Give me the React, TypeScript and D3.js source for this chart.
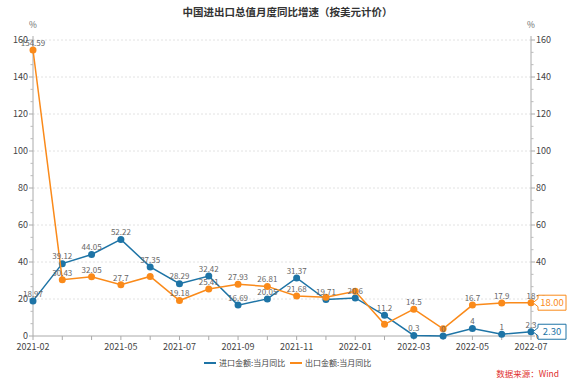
import * as d3 from "d3";

const months = [
  "2021-02", "2021-03", "2021-04", "2021-05", "2021-06", "2021-07",
  "2021-08", "2021-09", "2021-10", "2021-11", "2021-12", "2022-01",
  "2022-02", "2022-03", "2022-04", "2022-05", "2022-06", "2022-07",
];
// 进口金额:当月同比
const importYoY = [18.97, 39.12, 44.05, 52.22, 37.35, 28.29, 32.42, 16.69, 20.05, 31.37, 19.71, 20.6, 11.2, 0.3, 0, 4, 1, 2.3];
// 出口金额:当月同比
const exportYoY = [154.59, 30.43, 32.05, 27.7, 32.2, 19.18, 25.41, 27.93, 26.81, 21.68, 20.9, 24.2, 6.3, 14.5, 3.9, 16.7, 17.9, 18];
const xTickLabels = ["2021-02", "2021-05", "2021-07", "2021-09", "2021-11", "2022-01", "2022-03", "2022-05", "2022-07"];
const yTicks = [0, 20, 40, 60, 80, 100, 120, 140, 160];

const W = 575;
const H = 384;
const left = 33;
const right = 531;
const top = 40;
const bottom = 336;
const font = "'Noto Sans CJK SC', 'Open Sans', sans-serif";
const BLUE = "#1e74a6";
const ORANGE = "#fa8a1a";

const series = [
  { name: "进口金额:当月同比", values: importYoY, color: BLUE },
  { name: "出口金额:当月同比", values: exportYoY, color: ORANGE },
];

const App = () => {
  const x = d3.scalePoint<string>().domain(months).range([left, right]);
  const y = d3.scaleLinear().domain([0, 160]).range([bottom, top]);
  const line = d3
    .line<number>()
    .x((_, i) => x(months[i])!)
    .y((d) => y(d));

  // minor ticks: 3 parts between major ticks
  const minor: number[] = [];
  for (let v = 0; v < 160; v += 20) {
    minor.push(v + 20 / 3, v + 40 / 3);
  }

  // data labels, hide ones that collide with labels already placed
  const placed: { x: number; y: number; w: number; h: number }[] = [];
  const labels: { x: number; y: number; text: string }[] = [];
  series.forEach((s) => {
    s.values.forEach((v, i) => {
      const text = String(v);
      const lx = x(months[i])!;
      const ly = y(v) - 7;
      const box = { x: lx - text.length * 2.3, y: ly - 5.5, w: text.length * 4.6, h: 11 };
      const hit = placed.some(
        (b) => box.x < b.x + b.w && b.x < box.x + box.w && box.y < b.y + b.h && b.y < box.y + box.h
      );
      if (!hit) {
        placed.push(box);
        labels.push({ x: lx, y: ly, text });
      }
    });
  });

  const lastIdx = months.length - 1;
  const callout = (v: number, color: string) => {
    const cy = y(v);
    const x0 = right + 2;
    const bx = 538;
    const bw = 28;
    const bh = 15;
    const d = `M${x0},${cy} L${bx},${cy - 4} L${bx},${cy - bh / 2} L${bx + bw},${cy - bh / 2} L${bx + bw},${cy + bh / 2} L${bx},${cy + bh / 2} L${bx},${cy + 4} Z`;
    return (
      <g key={color}>
        <path d={d} fill="#fff" stroke={color} strokeWidth={1} />
        <text x={bx + bw / 2} y={cy} dy="0.35em" textAnchor="middle" fontSize={9.5} fill={color}>
          {v.toFixed(2)}
        </text>
      </g>
    );
  };

  return (
    <svg width={W} height={H} style={{ position: "absolute", left: 0, top: 0, fontFamily: font }}>
      <rect width={W} height={H} fill="#fff" />
      <text x={W / 2} y={16} textAnchor="middle" fontSize={10.5} fontWeight="bold" fill="#333">
        中国进出口总值月度同比增速（按美元计价）
      </text>
      <text x={left} y={28} textAnchor="middle" fontSize={8.5} fill="#666">%</text>
      <text x={right} y={28} textAnchor="middle" fontSize={8.5} fill="#666">%</text>

      {/* grid */}
      {yTicks.filter((t) => t > 0).map((t) => (
        <line key={t} x1={left} x2={right} y1={y(t)} y2={y(t)} stroke="#e2e2e2" strokeDasharray="2,2" />
      ))}

      {/* left axis */}
      <line x1={left} x2={left} y1={top - 4} y2={bottom} stroke="#aaa" />
      {yTicks.map((t) => (
        <g key={"l" + t}>
          <line x1={left - 4} x2={left} y1={y(t)} y2={y(t)} stroke="#aaa" />
          <text x={left - 5} y={y(t)} dy="0.35em" textAnchor="end" fontSize={9} fill="#444">{t}</text>
        </g>
      ))}
      {minor.map((t) => (
        <line key={"lm" + t} x1={left - 2.5} x2={left} y1={y(t)} y2={y(t)} stroke="#bbb" />
      ))}

      {/* right axis */}
      <line x1={right} x2={right} y1={top - 4} y2={bottom} stroke="#aaa" />
      {yTicks.map((t) => (
        <g key={"r" + t}>
          <line x1={right} x2={right + 4} y1={y(t)} y2={y(t)} stroke="#aaa" />
          <text x={right + 5} y={y(t)} dy="0.35em" textAnchor="start" fontSize={9} fill="#444">{t}</text>
        </g>
      ))}
      {minor.map((t) => (
        <line key={"rm" + t} x1={right} x2={right + 2.5} y1={y(t)} y2={y(t)} stroke="#bbb" />
      ))}

      {/* x axis */}
      <line x1={left} x2={right} y1={bottom} y2={bottom} stroke="#aaa" />
      {months.map((m) => (
        <line key={m} x1={x(m)!} x2={x(m)!} y1={bottom} y2={bottom + 4} stroke="#aaa" />
      ))}
      {xTickLabels.map((m) => (
        <text key={"t" + m} x={x(m)!} y={bottom + 11} dy="0.35em" textAnchor="middle" fontSize={9} fill="#444">
          {m}
        </text>
      ))}

      {/* series */}
      {series.map((s) => (
        <g key={s.name}>
          <path d={line(s.values)!} fill="none" stroke={s.color} strokeWidth={1.5} />
          {s.values.map((v, i) => (
            <circle key={i} cx={x(months[i])!} cy={y(v)} r={3.5} fill={s.color} />
          ))}
        </g>
      ))}

      {labels.map((l, i) => (
        <text key={"dl" + i} x={l.x} y={l.y} dy="0.35em" textAnchor="middle" fontSize={8} fill="#666">
          {l.text}
        </text>
      ))}

      {callout(exportYoY[lastIdx], ORANGE)}
      {callout(importYoY[lastIdx], BLUE)}

      {/* legend */}
      {series.map((s, i) => {
        const lx = 204 + i * 86;
        return (
          <g key={"lg" + s.name}>
            <line x1={lx} x2={lx + 12} y1={363} y2={363} stroke={s.color} strokeWidth={2} />
            <text x={lx + 15} y={363} dy="0.35em" fontSize={8} fill="#444">{s.name}</text>
          </g>
        );
      })}

      <text x={559} y={374} dy="0.35em" textAnchor="end" fontSize={8.5} fill="#e0302e">
        数据来源：Wind
      </text>
    </svg>
  );
};

export default App;
